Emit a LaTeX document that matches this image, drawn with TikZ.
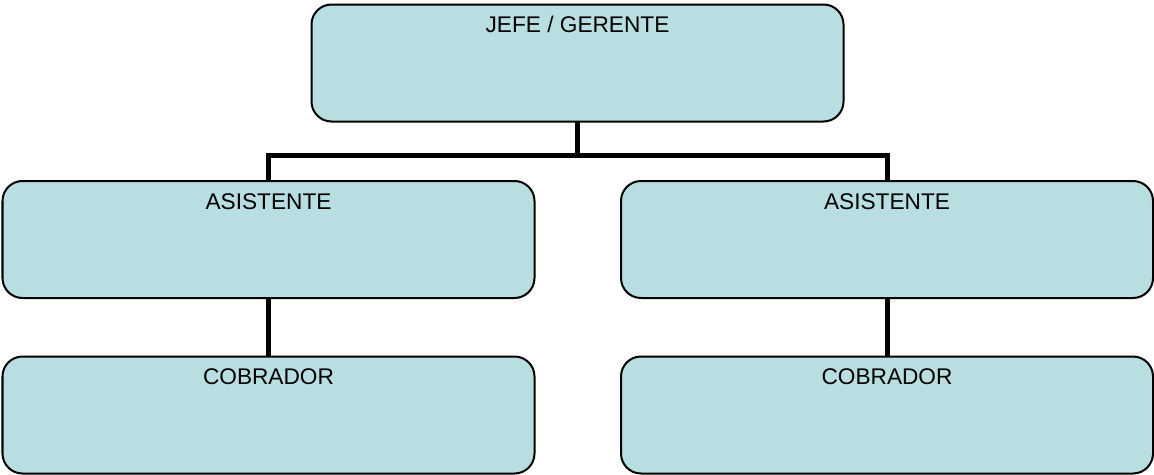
\documentclass[tikz,border=0pt]{standalone}
\usepackage{fontspec}
\setmainfont{Liberation Sans}
\definecolor{boxfill}{RGB}{184,222,226}
\begin{document}
\begin{tikzpicture}[x=0.75pt,y=-0.75pt,
  orgbox/.style={draw=black,line width=1.5pt,fill=boxfill,rounded corners=15pt,
    minimum width=399pt,minimum height=87.75pt,inner sep=0pt,outer sep=0pt},
  orgtext/.style={font=\fontsize{17}{20}\selectfont,inner sep=0pt,anchor=base},
  link/.style={line width=3.75pt,line join=miter}]
\path[use as bounding box] (0,0) rectangle (1154,475);
\node[orgbox] (jefe) at (577.5,63) {};
\node[orgbox] (asl) at (268.5,239.5) {};
\node[orgbox] (asr) at (887,239.5) {};
\node[orgbox] (col) at (268.5,415) {};
\node[orgbox] (cor) at (887,415) {};
\node[orgtext] (tj) at ([yshift=-21.3pt]jefe.north) {JEFE / GERENTE};
\node[orgtext] (tal) at ([yshift=-21.3pt]asl.north) {ASISTENTE};
\node[orgtext] (tar) at ([yshift=-21.3pt]asr.north) {ASISTENTE};
\node[orgtext] (tcl) at ([yshift=-21.3pt]col.north) {COBRADOR};
\node[orgtext] (tcr) at ([yshift=-21.3pt]cor.north) {COBRADOR};
\coordinate (j) at (577.5,155.5);
\draw[link] (jefe.south) -- (j);
\draw[link] (asl.north) |- (j) -| (asr.north);
\draw[link] (asl.south) -- (col.north);
\draw[link] (asr.south) -- (cor.north);
\end{tikzpicture}
\end{document}
